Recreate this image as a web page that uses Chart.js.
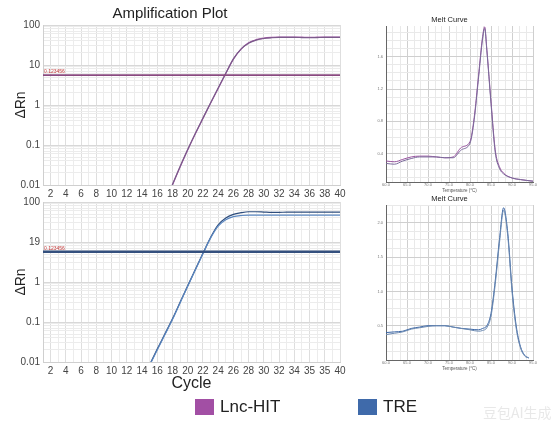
<!DOCTYPE html>
<html>
<head>
<meta charset="utf-8">
<script src="https://cdn.jsdelivr.net/npm/chart.js@4.4.1/dist/chart.umd.min.js"></script>
<style>
  body { margin: 0; background: #fff; width: 556px; height: 423px; overflow: hidden; position: relative;
         font-family: 'Liberation Sans', Arial, sans-serif; }
  .box { position: absolute; }
  .legend { position: absolute; top: 397px; display: flex; align-items: center; font-size: 17px; color: #222; }
  .sw { width: 19px; height: 16px; margin-right: 6px; }
  .mark { position: absolute; left: 483px; top: 402px; font: 14px 'Noto Sans CJK SC'; color: rgba(190,190,190,0.35); }
</style>
</head>
<body>
<div class="box" style="left:0;top:0;width:364px;height:205px"><canvas id="ampTop"></canvas></div>
<div class="box" style="left:0;top:180px;width:364px;height:222px"><canvas id="ampBot"></canvas></div>
<div class="box" style="left:366px;top:12px;width:180px;height:184px"><canvas id="meltTop"></canvas></div>
<div class="box" style="left:366px;top:191px;width:180px;height:183px"><canvas id="meltBot"></canvas></div>

<div class="legend" style="left:195px"><div class="sw" style="background:#a24fa4"></div>Lnc-HIT</div>
<div class="legend" style="left:358px"><div class="sw" style="background:#3f6aaa"></div>TRE</div>
<div class="mark">豆包AI生成</div>

<script>
// ---- amplification data ----
const ampXTicks = [2, 4, 6, 8, 10, 12, 14, 16, 18, 20, 22, 24, 26, 28, 30, 32, 34, 36, 38, 40];
const ampXLabelsTop = ['2','4','6','8','10','12','14','16','18','20','22','24','26','28','30','32','34','36','38','40'];
const ampXLabelsBot = ['2','4','6','8','10','12','14','16','18','20','22','24','26','28','30','32','34','35','35','40'];
const ampYTicks = [0.01, 0.1, 1, 10, 100];
const ampYLabelsTop = ['0.01', '0.1', '1', '10', '100'];
const ampYLabelsBot = ['0.01', '0.1', '1', '19', '100'];

const ampTopCycles = [17,18,19,20,21,22,23,24,25,26,27,28,29,30,31,32,33,34,35,36,37,38,39,40];
const ampTopA = [0.0036,0.01,0.028,0.075,0.19,0.46,1.1,2.6,6.1,14,25,36,43,47,49,50,50,50,49.5,49,49.5,50,50,50];
const ampTopB = [0.0037,0.0103,0.029,0.077,0.195,0.47,1.12,2.65,6.2,14.2,25,35,42,46,48,49,49,49,48.5,48,48.5,49,49,49];
const ampTopThreshold = 5.6;

const ampBotCycles = [15,16,17,18,19,20,21,22,23,24,25,26,27,28,29,30,31,32,33,34,35,36,37,38,39,40];
const ampBotA = [0.0085,0.021,0.05,0.12,0.31,0.8,2.05,5.2,13,27,40,49,54,57,57,56,55,55,56,56,56,56,56,56,56,56];
const ampBotB = [0.0082,0.020,0.048,0.115,0.30,0.78,2.0,5.1,12.5,25,36,43,46,47,47,47,47,47,47,47,47,47,47,47,47,47];
const ampBotThreshold = 5.7;

// ---- melt curve data ----
const meltXLabels = ['60.0','65.0','70.0','75.0','80.0','85.0','90.0','95.0'];

const meltTopTemps = [60,62,64,66,68,70,72,74,76,78,80,81,82,83,83.5,84,85,86,87,88,90,92,95];
const meltTopA = [0.31,0.30,0.33,0.36,0.37,0.37,0.36,0.35,0.36,0.48,0.55,0.85,1.35,1.85,1.97,1.70,1.05,0.45,0.24,0.16,0.10,0.08,0.06];
const meltTopB = [0.28,0.27,0.31,0.34,0.36,0.36,0.36,0.35,0.35,0.45,0.53,0.82,1.32,1.82,1.95,1.68,1.02,0.42,0.22,0.15,0.10,0.08,0.06];
const meltTopYTicks = [0.4, 0.8, 1.2, 1.6];
const meltTopYLabels = ['0.4', '0.8', '1.2', '1.6'];

const meltBotTemps = [60,62,64,66,68,70,72,74,76,78,80,82,83,84,85,86,87,88,89,90,91,92,93,94];
const meltBotA = [0.40,0.41,0.42,0.46,0.48,0.50,0.50,0.50,0.48,0.46,0.45,0.44,0.46,0.50,0.68,1.15,1.75,2.22,1.85,1.05,0.50,0.20,0.07,0.03];
const meltBotB = [0.37,0.39,0.41,0.45,0.47,0.49,0.50,0.50,0.48,0.46,0.44,0.42,0.43,0.47,0.64,1.10,1.70,2.18,1.80,1.00,0.46,0.18,0.06,0.03];
const meltBotYTicks = [0.5, 1.0, 1.5, 2.0];
const meltBotYLabels = ['0.5', '1.0', '1.5', '2.0'];

const FONT = "'Liberation Sans', Arial, sans-serif";

function pts(xs, ys) { return xs.map((x, i) => ({ x: x, y: ys[i] })); }
function near(a, b) { return Math.abs(a - b) < 1e-6 * Math.max(1, Math.abs(b)); }
function labelFor(v, vals, labels) {
    const i = vals.findIndex(t => near(v, t));
    return i >= 0 ? labels[i] : '';
}

// small red value written over the threshold line
const thresholdLabel = {
    id: 'thresholdLabel',
    afterDatasetsDraw(chart, args, opts) {
        if (!opts.text) return;
        const { ctx, chartArea, scales } = chart;
        const y = scales.y.getPixelForValue(opts.value);
        ctx.save();
        ctx.fillStyle = '#c23b3b';
        ctx.font = '5px ' + FONT;
        ctx.textBaseline = 'bottom';
        ctx.fillText(opts.text, chartArea.left + 1, y - 1);
        ctx.restore();
    }
};

function ampChart(id, cfg) {
    const logTicks = [];
    for (let e = -2; e <= 1; e++) for (let k = 1; k <= 9; k++) logTicks.push(k * Math.pow(10, e));
    logTicks.push(100);

    return new Chart(document.getElementById(id), {
        type: 'line',
        data: {
            datasets: [
                { data: [{ x: 1, y: cfg.thr }, { x: 40, y: cfg.thr }], borderColor: cfg.thrColor, borderWidth: cfg.thrWidth },
                { data: pts(cfg.cycles, cfg.b), borderColor: cfg.colorB, borderWidth: 1.2, cubicInterpolationMode: 'monotone' },
                { data: pts(cfg.cycles, cfg.a), borderColor: cfg.colorA, borderWidth: 1.2, cubicInterpolationMode: 'monotone' }
            ]
        },
        options: {
            responsive: true,
            maintainAspectRatio: false,
            animation: false,
            layout: { padding: { left: 0, right: 24, top: cfg.padTop, bottom: 0 } },
            elements: { point: { radius: 0 } },
            datasets: { line: { clip: 0 } },
            plugins: {
                legend: { display: false },
                tooltip: { enabled: false },
                title: {
                    display: !!cfg.title,
                    text: cfg.title,
                    color: '#222',
                    font: { family: FONT, size: 15, weight: 'normal' },
                    padding: { top: 5, bottom: 2 }
                },
                thresholdLabel: { value: cfg.thr, text: '0.123456' }
            },
            scales: {
                x: {
                    type: 'linear', min: 1, max: 40,
                    afterBuildTicks: s => { s.ticks = []; for (let c = 1; c <= 40; c++) s.ticks.push({ value: c }); },
                    afterFit: s => { s.height = cfg.xTitle ? 40 : 20; },
                    grid: { color: c => (c.tick && c.tick.value % 2 === 0) ? '#dedede' : '#ececec', drawTicks: false },
                    border: { color: '#cfcfcf' },
                    ticks: {
                        autoSkip: false, maxRotation: 0, padding: 3, color: '#444',
                        font: { family: FONT, size: 10 },
                        callback: v => labelFor(v, ampXTicks, cfg.xLabels)
                    },
                    title: {
                        display: !!cfg.xTitle, text: cfg.xTitle, color: '#222',
                        font: { family: FONT, size: 16 }, padding: { top: 0, bottom: 9 }
                    }
                },
                y: {
                    type: 'logarithmic', min: 0.01, max: 100,
                    afterBuildTicks: s => { s.ticks = logTicks.map(v => ({ value: v })); },
                    afterFit: s => { s.width = 43; },
                    grid: { color: c => (c.tick && ampYTicks.some(t => near(c.tick.value, t))) ? '#d8d8d8' : '#ececec', drawTicks: false },
                    border: { color: '#cfcfcf' },
                    ticks: {
                        autoSkip: false, padding: 3, color: '#444',
                        font: { family: FONT, size: 10 },
                        callback: v => labelFor(v, ampYTicks, cfg.yLabels)
                    },
                    title: {
                        display: true, text: 'ΔRn', color: '#222',
                        font: { family: FONT, size: 14 }, padding: { top: 13, bottom: 0 }
                    }
                }
            }
        },
        plugins: [thresholdLabel]
    });
}

function meltChart(id, cfg) {
    const xt = [];
    for (let i = 0; i <= 21; i++) xt.push(60 + i * 5 / 3);
    const yt = [];
    for (let v = cfg.yStep; v < cfg.yMax; v += cfg.yStep) yt.push(Math.round(v * 1000) / 1000);

    return new Chart(document.getElementById(id), {
        type: 'line',
        data: {
            datasets: [
                { data: pts(cfg.temps, cfg.b), borderColor: cfg.colorB, borderWidth: 1, cubicInterpolationMode: 'monotone' },
                { data: pts(cfg.temps, cfg.a), borderColor: cfg.colorA, borderWidth: 1, cubicInterpolationMode: 'monotone' }
            ]
        },
        options: {
            responsive: true,
            maintainAspectRatio: false,
            animation: false,
            layout: { padding: { left: 0, right: 13, top: 0, bottom: 0 } },
            elements: { point: { radius: 0 } },
            datasets: { line: { clip: 0 } },
            plugins: {
                legend: { display: false },
                tooltip: { enabled: false },
                title: {
                    display: true, text: 'Melt Curve', color: '#222',
                    font: { family: FONT, size: 7.5, weight: 'normal' },
                    padding: { top: 3.5, bottom: 1.5 }
                }
            },
            scales: {
                x: {
                    type: 'linear', min: 60, max: 95,
                    afterBuildTicks: s => { s.ticks = xt.map(v => ({ value: v })); },
                    afterFit: s => { s.height = 14; },
                    grid: { color: c => (c.index % 3 === 0) ? '#cfcfcf' : '#e9e9e9', drawTicks: false },
                    border: { color: '#666' },
                    ticks: {
                        autoSkip: false, maxRotation: 0, padding: 0, color: '#777',
                        font: { family: FONT, size: 4 },
                        callback: (v, i) => (i % 3 === 0) ? meltXLabels[i / 3] : ''
                    },
                    title: {
                        display: true, text: 'Temperature (°C)', color: '#555',
                        font: { family: FONT, size: 4.5 }, padding: { top: 0, bottom: 3 }
                    }
                },
                y: {
                    min: cfg.yMin, max: cfg.yMax,
                    afterBuildTicks: s => { s.ticks = yt.map(v => ({ value: v })); },
                    afterFit: s => { s.width = 20; },
                    grid: { color: c => (c.tick && cfg.yTicks.some(t => near(c.tick.value, t))) ? '#cfcfcf' : '#e9e9e9', drawTicks: false },
                    border: { color: '#666' },
                    ticks: {
                        autoSkip: false, padding: 3, color: '#777',
                        font: { family: FONT, size: 4 },
                        callback: v => labelFor(v, cfg.yTicks, cfg.yLabels)
                    }
                }
            }
        }
    });
}

ampChart('ampTop', {
    title: 'Amplification Plot', padTop: 0, xTitle: '',
    cycles: ampTopCycles, a: ampTopA, b: ampTopB,
    colorA: '#a45aa8', colorB: '#7a5a8a',
    thr: ampTopThreshold, thrColor: '#8a4a80', thrWidth: 1.8,
    xLabels: ampXLabelsTop, yLabels: ampYLabelsTop
});

ampChart('ampBot', {
    title: '', padTop: 22, xTitle: 'Cycle',
    cycles: ampBotCycles, a: ampBotA, b: ampBotB,
    colorA: '#2e4d7c', colorB: '#5a86c0',
    thr: ampBotThreshold, thrColor: '#34507e', thrWidth: 2.4,
    xLabels: ampXLabelsBot, yLabels: ampYLabelsBot
});

meltChart('meltTop', {
    temps: meltTopTemps, a: meltTopA, b: meltTopB,
    colorA: '#9a55a0', colorB: '#7a6a9a',
    yMin: 0.05, yMax: 1.98, yStep: 0.1,
    yTicks: meltTopYTicks, yLabels: meltTopYLabels
});

meltChart('meltBot', {
    temps: meltBotTemps, a: meltBotA, b: meltBotB,
    colorA: '#3a65a5', colorB: '#6a88b0',
    yMin: 0, yMax: 2.26, yStep: 0.125,
    yTicks: meltBotYTicks, yLabels: meltBotYLabels
});
</script>
</body>
</html>
